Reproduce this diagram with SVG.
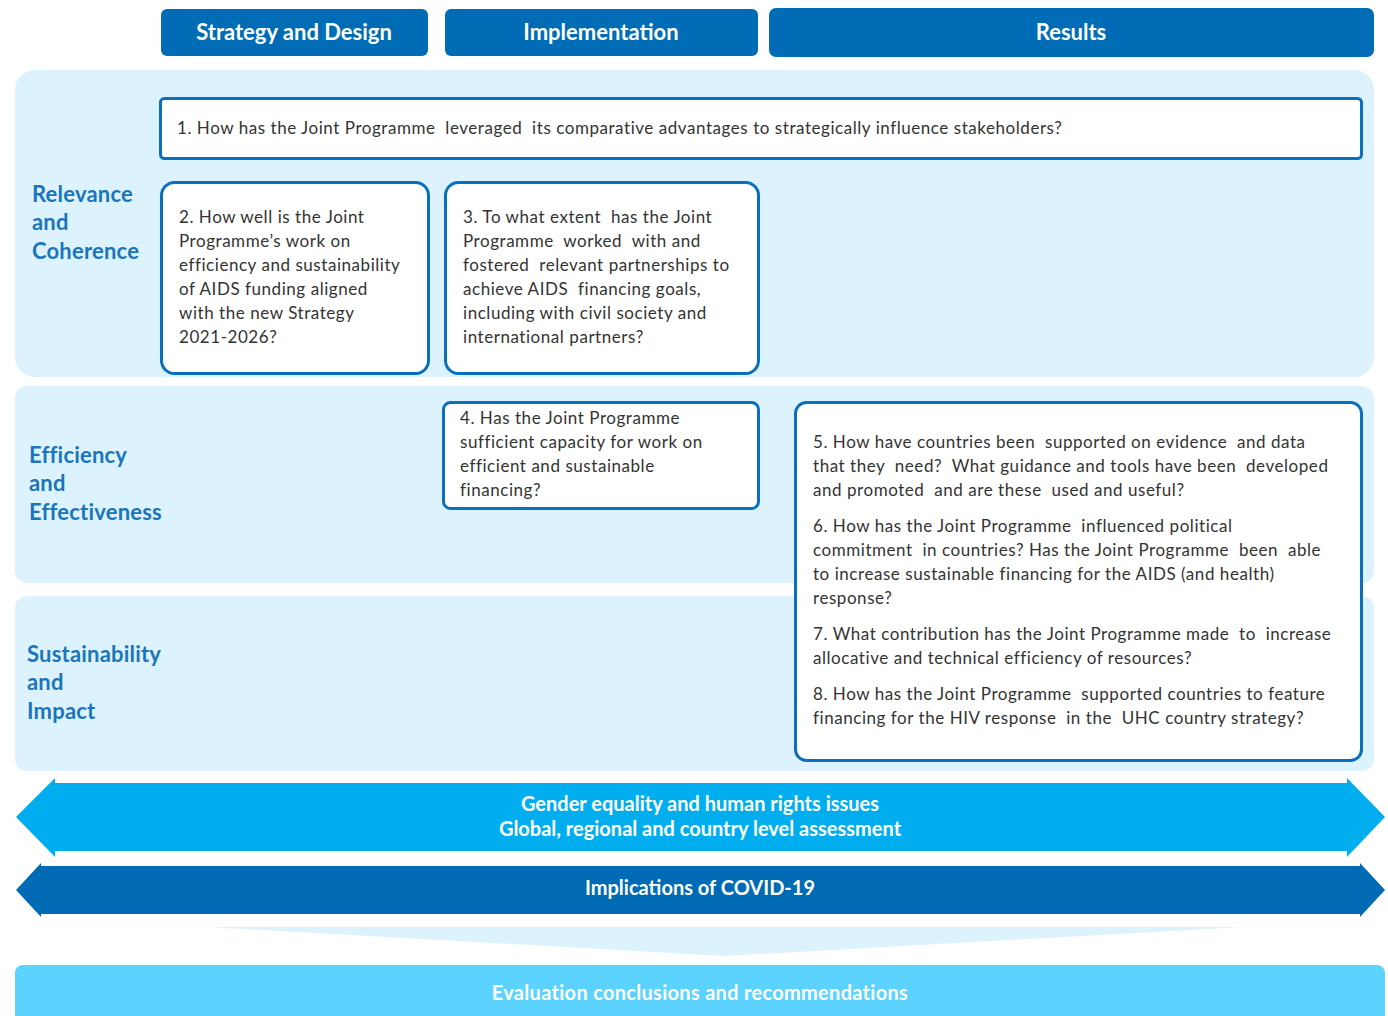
<svg xmlns="http://www.w3.org/2000/svg" width="1388" height="1016" viewBox="0 0 1388 1016">
<style>
.hdr{fill:#006cb6}
.hdrt{font-family:Lato,"Liberation Sans",sans-serif;font-weight:bold;font-size:22px;fill:#fff;text-anchor:middle}
.band{fill:#dcf3fd}
.box{fill:#fff;stroke:#0a6fbd;stroke-width:3}
.q{font-family:Lato,"Liberation Sans",sans-serif;font-size:17px;letter-spacing:0.55px;fill:#333;white-space:pre}
.lbl{font-family:Lato,"Liberation Sans",sans-serif;font-weight:bold;font-size:22px;letter-spacing:0.2px;fill:#1a75bb}
.wt{font-family:Lato,"Liberation Sans",sans-serif;font-weight:bold;font-size:20px;fill:#fff;text-anchor:middle}
</style>
<g id="headers">
<g id="h-strategy"><rect class="hdr" x="161" y="9" width="267" height="47" rx="6"/><text class="hdrt" x="294" y="40">Strategy and Design</text></g>
<g id="h-implementation"><rect class="hdr" x="445" y="9" width="313" height="47" rx="6"/><text class="hdrt" x="601" y="40">Implementation</text></g>
<g id="h-results"><rect class="hdr" x="769" y="8" width="605" height="49" rx="7"/><text class="hdrt" x="1071" y="40">Results</text></g>
</g>
<g id="bands">
<g id="band-relevance"><rect class="band" x="15" y="70" width="1359" height="307" rx="20"/>
<text class="lbl" x="32" y="202">Relevance</text><text class="lbl" x="32" y="230">and</text><text class="lbl" x="32" y="259">Coherence</text></g>
<g id="band-efficiency"><rect class="band" x="15" y="386" width="1359" height="197" rx="12"/>
<text class="lbl" x="29" y="463">Efficiency</text><text class="lbl" x="29" y="491">and</text><text class="lbl" x="29" y="520">Effectiveness</text></g>
<g id="band-sustainability"><rect class="band" x="15" y="596" width="1359" height="175" rx="12"/>
<text class="lbl" x="27" y="662">Sustainability</text><text class="lbl" x="27" y="690">and</text><text class="lbl" x="27" y="719">Impact</text></g>
</g>
<g id="q1"><rect class="box" x="160.5" y="98.5" width="1201" height="60" rx="4"/>
<text class="q" x="177" y="134">1. How has the Joint Programme  leveraged  its comparative advantages to strategically influence stakeholders?</text></g>
<g id="q2"><rect class="box" x="161.5" y="182.5" width="267" height="191" rx="13"/>
<text class="q" x="179" y="223">2. How well is the Joint</text>
<text class="q" x="179" y="247">Programme’s work on</text>
<text class="q" x="179" y="271">efficiency and sustainability</text>
<text class="q" x="179" y="295">of AIDS funding aligned</text>
<text class="q" x="179" y="319">with the new Strategy</text>
<text class="q" x="179" y="343">2021-2026?</text></g>
<g id="q3"><rect class="box" x="445.5" y="182.5" width="313" height="191" rx="13"/>
<text class="q" x="463" y="223">3. To what extent  has the Joint</text>
<text class="q" x="463" y="247">Programme  worked  with and</text>
<text class="q" x="463" y="271">fostered  relevant partnerships to</text>
<text class="q" x="463" y="295">achieve AIDS  financing goals,</text>
<text class="q" x="463" y="319">including with civil society and</text>
<text class="q" x="463" y="343">international partners?</text></g>
<g id="q4"><rect class="box" x="443.5" y="402.5" width="315" height="106" rx="7"/>
<text class="q" x="460" y="424">4. Has the Joint Programme</text>
<text class="q" x="460" y="448">sufficient capacity for work on</text>
<text class="q" x="460" y="472">efficient and sustainable</text>
<text class="q" x="460" y="496">financing?</text></g>
<g id="q5-8"><rect class="box" x="795.5" y="402.5" width="566" height="358" rx="11"/>
<text class="q" x="813" y="448">5. How have countries been  supported on evidence  and data</text>
<text class="q" x="813" y="472">that they  need?  What guidance and tools have been  developed</text>
<text class="q" x="813" y="496">and promoted  and are these  used and useful?</text>
<text class="q" x="813" y="532">6. How has the Joint Programme  influenced political</text>
<text class="q" x="813" y="556">commitment  in countries? Has the Joint Programme  been  able</text>
<text class="q" x="813" y="580">to increase sustainable financing for the AIDS (and health)</text>
<text class="q" x="813" y="604">response?</text>
<text class="q" x="813" y="640">7. What contribution has the Joint Programme made  to  increase</text>
<text class="q" x="813" y="664">allocative and technical efficiency of resources?</text>
<text class="q" x="813" y="700">8. How has the Joint Programme  supported countries to feature</text>
<text class="q" x="813" y="724">financing for the HIV response  in the  UHC country strategy?</text></g>
<g id="connectors">
<g id="arrow-gender"><polygon fill="#00aeef" points="16,817 55,778 55,783 1347,783 1347,778 1385,817 1347,857 1347,851 55,851 55,857"/>
<text class="wt" x="700" y="811">Gender equality and human rights issues</text>
<text class="wt" x="700" y="836">Global, regional and country level assessment</text></g>
<g id="arrow-covid"><polygon fill="#006bb5" points="16,890 41,863 41,866 1360,866 1360,863 1385,890 1360,917 1360,914 41,914 41,917"/>
<text class="wt" x="700" y="895">Implications of COVID-19</text></g>
<polygon id="chevron" fill="#dcf3fd" points="208,927 1243,927 724,956"/>
</g>
<g id="conclusions"><rect x="15" y="965" width="1370" height="70" rx="8" fill="#5cd3fe"/>
<text class="wt" x="700" y="1000" style="letter-spacing:0.3px">Evaluation conclusions and recommendations</text></g>
</svg>
